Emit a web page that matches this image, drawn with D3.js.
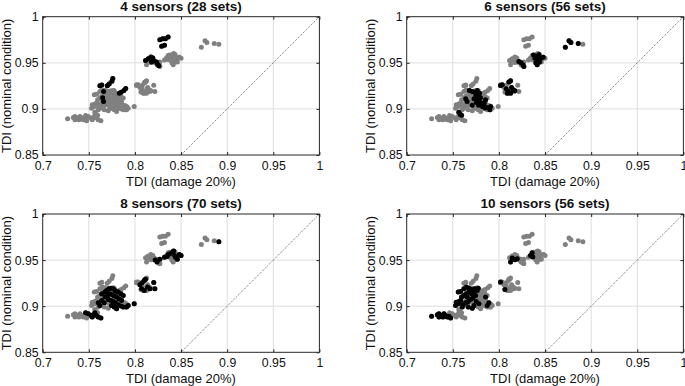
<!DOCTYPE html>
<html>
<head>
<meta charset="utf-8">
<script src="https://cdn.jsdelivr.net/npm/d3@7"></script>
<style>
  body { margin: 0; background: #fff; }
  svg { display: block; font-family: "Liberation Sans", Arial, sans-serif; }
</style>
</head>
<body>
<svg id="chart" width="685" height="386"></svg>
<script>
var xTicks = [0.7, 0.75, 0.8, 0.85, 0.9, 0.95, 1];
var yTicks = [0.85, 0.9, 0.95, 1];
var titles = ['4 sensors (28 sets)', '6 sensors (56 sets)', '8 sensors (70 sets)', '10 sensors (56 sets)'];

// [TDI damage 20%, TDI nominal] for each sensor set
var sensors4 = [
    [0.827, 0.975], [0.830, 0.976], [0.833, 0.976], [0.836, 0.978], [0.829, 0.968], [0.832, 0.969],
    [0.8115, 0.9526], [0.8144, 0.9544], [0.8173, 0.9562], [0.8194, 0.9551], [0.8205, 0.9522],
    [0.8180, 0.9508], [0.8234, 0.9508], [0.8245, 0.9486], [0.8259, 0.9468],
    [0.762, 0.925], [0.764, 0.926], [0.770, 0.925], [0.772, 0.927], [0.775, 0.930], [0.776, 0.933],
    [0.766, 0.919], [0.765, 0.912], [0.766, 0.908], [0.783, 0.917], [0.785, 0.918], [0.788, 0.920],
    [0.790, 0.922]
];

var sensors6 = [
    [0.872, 0.967], [0.876, 0.974], [0.878, 0.972], [0.886, 0.971],
    [0.8215, 0.9515], [0.824, 0.950], [0.826, 0.948], [0.827, 0.946], [0.8375, 0.9585], [0.839, 0.955],
    [0.841, 0.957], [0.842, 0.953], [0.8435, 0.959], [0.844, 0.951], [0.846, 0.955], [0.840, 0.950],
    [0.8415, 0.948], [0.848, 0.956],
    [0.8017, 0.9255], [0.8036, 0.9262], [0.8108, 0.9291], [0.8126, 0.9305], [0.8079, 0.9218],
    [0.8101, 0.9189], [0.8126, 0.9171], [0.8155, 0.9207], [0.8173, 0.9196], [0.8137, 0.9233],
    [0.8090, 0.9171],
    [0.768, 0.920], [0.771, 0.919], [0.774, 0.918], [0.7765, 0.920], [0.779, 0.917], [0.775, 0.915],
    [0.778, 0.9135], [0.780, 0.912], [0.7765, 0.910], [0.779, 0.908], [0.781, 0.906], [0.778, 0.904],
    [0.782, 0.9025], [0.785, 0.901], [0.787, 0.9015], [0.790, 0.899], [0.791, 0.9025], [0.784, 0.906],
    [0.773, 0.911], [0.7755, 0.907], [0.7655, 0.908], [0.764, 0.911], [0.771, 0.904], [0.7565, 0.8965],
    [0.758, 0.894], [0.7595, 0.893], [0.7855, 0.910]
];

var sensors8 = [
    [0.891, 0.970],
    [0.822, 0.950], [0.824, 0.948], [0.827, 0.951], [0.832, 0.953], [0.835, 0.954], [0.836, 0.956],
    [0.838, 0.957], [0.841, 0.959], [0.842, 0.960], [0.843, 0.955], [0.844, 0.953], [0.846, 0.951],
    [0.848, 0.956], [0.850, 0.955],
    [0.8054, 0.9233], [0.8079, 0.9254], [0.8101, 0.928], [0.8115, 0.9291], [0.8072, 0.9189],
    [0.8101, 0.9171], [0.8137, 0.9207], [0.8162, 0.9189], [0.8216, 0.9189], [0.8204, 0.9256],
    [0.7638, 0.9135], [0.7675, 0.9153], [0.7693, 0.9171], [0.7718, 0.9189], [0.7740, 0.9196],
    [0.7765, 0.9189], [0.7783, 0.9171], [0.7801, 0.9160], [0.7819, 0.9153], [0.7848, 0.9135],
    [0.7873, 0.9117], [0.7675, 0.9099], [0.7703, 0.9117], [0.7729, 0.9135], [0.7754, 0.9124],
    [0.7776, 0.9110], [0.7801, 0.9099], [0.7826, 0.9081], [0.7855, 0.9063], [0.7711, 0.9073],
    [0.7740, 0.9063], [0.7765, 0.9052], [0.7790, 0.9037], [0.7819, 0.9015], [0.7848, 0.9001],
    [0.7873, 0.8990], [0.7909, 0.8990], [0.7927, 0.9008], [0.7992, 0.9026], [0.7638, 0.9063],
    [0.7602, 0.9037], [0.7620, 0.9008], [0.7667, 0.9037], [0.7747, 0.9008], [0.7776, 0.8990],
    [0.7801, 0.8972],
    [0.7465, 0.8929], [0.7494, 0.8918], [0.7523, 0.8900], [0.7548, 0.8907], [0.7566, 0.8929],
    [0.7584, 0.8900], [0.7602, 0.8882], [0.7631, 0.8871], [0.7537, 0.8882]
];

var sensors10 = [
    [0.8126, 0.9479], [0.8144, 0.9522], [0.8173, 0.9504], [0.8198, 0.9515], [0.8342, 0.9551],
    [0.8360, 0.9580], [0.8367, 0.9533],
    [0.8017, 0.9262], [0.8065, 0.9182],
    [0.7270, 0.8892], [0.7332, 0.8907], [0.7350, 0.8918], [0.7378, 0.8900], [0.7404, 0.8918],
    [0.7422, 0.8900], [0.7440, 0.8882], [0.7458, 0.8892], [0.7476, 0.8871], [0.7350, 0.8882],
    [0.7393, 0.8882],
    [0.7559, 0.9153], [0.7584, 0.9160], [0.7620, 0.9189], [0.7646, 0.9207], [0.7675, 0.9196],
    [0.7703, 0.9182], [0.7675, 0.9153], [0.7646, 0.9135], [0.7620, 0.9117], [0.7595, 0.9099],
    [0.7703, 0.9135], [0.7729, 0.9153], [0.7747, 0.9117], [0.7718, 0.9088], [0.7693, 0.9073],
    [0.7667, 0.9052], [0.7638, 0.9037], [0.7610, 0.9015], [0.7559, 0.9026], [0.7537, 0.9044],
    [0.7566, 0.9052], [0.7754, 0.9052], [0.7783, 0.9026], [0.7729, 0.9008], [0.7584, 0.9063],
    [0.7656, 0.9099], [0.7873, 0.9008], [0.7891, 0.9037], [0.7711, 0.8979], [0.7667, 0.8990],
    [0.7765, 0.9171], [0.7530, 0.9008], [0.7602, 0.8990], [0.7855, 0.9099], [0.7740, 0.9189],
    [0.7776, 0.9196]
];

var panelSets = [sensors4, sensors6, sensors8, sensors10];
var allSets = [].concat(sensors4, sensors6, sensors8, sensors10);

var panelLeft = [42.7, 406.7];
var panelTop = [16.7, 214];
var pw = 276.7, ph = 138.3;

var x = d3.scaleLinear().domain([0.7, 1]).range([0, pw]);
var y = d3.scaleLinear().domain([0.85, 1]).range([ph, 0]);
var fmt = function(d) { return String(+d.toFixed(2)); };

var svg = d3.select('#chart');

panelSets.forEach(function(pts, i) {
    var g = svg.append('g')
        .attr('transform', 'translate(' + panelLeft[i % 2] + ',' + panelTop[Math.floor(i / 2)] + ')');

    // grid
    g.selectAll('.vgrid').data(xTicks.slice(1, -1)).join('line')
        .attr('x1', x).attr('x2', x).attr('y1', 0).attr('y2', ph)
        .style('stroke', '#dedede').style('stroke-width', 1);
    g.selectAll('.hgrid').data(yTicks.slice(1, -1)).join('line')
        .attr('class', 'hgrid')
        .attr('y1', y).attr('y2', y).attr('x1', 0).attr('x2', pw)
        .style('stroke', '#dedede').style('stroke-width', 1);

    // diagonal reference line
    g.append('line')
        .attr('x1', x(0.85)).attr('y1', y(0.85))
        .attr('x2', x(1)).attr('y2', y(1))
        .style('stroke', '#444').style('stroke-width', 0.9)
        .style('stroke-dasharray', '1,1.3');

    // all sets in gray, this panel's sets in black
    g.append('g').selectAll('circle').data(allSets).join('circle')
        .attr('cx', function(d) { return x(d[0]); })
        .attr('cy', function(d) { return y(d[1]); })
        .attr('r', 2.5)
        .style('fill', '#808080');
    g.append('g').selectAll('circle').data(pts).join('circle')
        .attr('cx', function(d) { return x(d[0]); })
        .attr('cy', function(d) { return y(d[1]); })
        .attr('r', 2.5)
        .style('fill', '#000');

    // box
    g.append('rect')
        .attr('width', pw).attr('height', ph)
        .style('fill', 'none').style('stroke', '#262626').style('stroke-width', 1);

    // inward ticks on all sides
    g.append('g').call(d3.axisBottom(x).tickValues(xTicks).tickSize(-3).tickFormat(''))
        .attr('transform', 'translate(0,' + ph + ')');
    g.append('g').call(d3.axisTop(x).tickValues(xTicks).tickSize(-3).tickFormat(''));
    g.append('g').call(d3.axisLeft(y).tickValues(yTicks).tickSize(-3).tickFormat(''));
    g.append('g').call(d3.axisRight(y).tickValues(yTicks).tickSize(-3).tickFormat(''))
        .attr('transform', 'translate(' + pw + ',0)');
    g.selectAll('.domain').remove();
    g.selectAll('.tick line').style('stroke', '#262626');

    // tick labels
    var xa = g.append('g').attr('transform', 'translate(0,' + ph + ')')
        .call(d3.axisBottom(x).tickValues(xTicks).tickSize(0).tickPadding(6).tickFormat(fmt));
    var ya = g.append('g')
        .call(d3.axisLeft(y).tickValues(yTicks).tickSize(0).tickPadding(4).tickFormat(fmt));
    [xa, ya].forEach(function(a) {
        a.select('.domain').remove();
        a.selectAll('text').style('font-size', '12.3px').style('fill', '#111')
            .style('font-family', '"Liberation Sans", Arial, sans-serif');
    });

    // labels
    g.append('text')
        .attr('x', pw / 2).attr('y', -5.8)
        .attr('text-anchor', 'middle')
        .style('font-size', '13.5px').style('font-weight', 'bold').style('fill', '#111')
        .text(titles[i]);
    g.append('text')
        .attr('x', pw / 2).attr('y', ph + 31)
        .attr('text-anchor', 'middle')
        .style('font-size', '13px').style('fill', '#111')
        .text('TDI (damage 20%)');
    g.append('text')
        .attr('transform', 'translate(-31.5,' + ph / 2 + ') rotate(-90)')
        .attr('text-anchor', 'middle')
        .style('font-size', '13px').style('fill', '#111')
        .text('TDI (nominal condition)');
});
</script>
</body>
</html>
